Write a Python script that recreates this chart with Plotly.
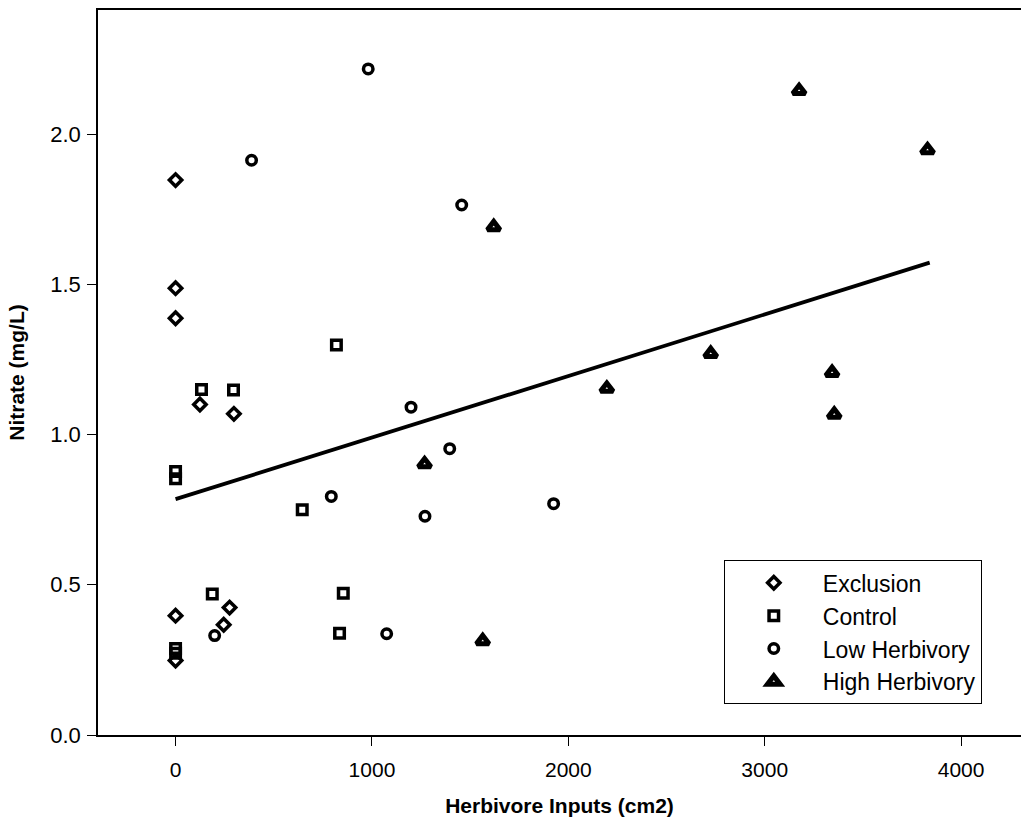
import plotly.graph_objects as go

# Herbivore inputs (cm2) and nitrate (mg/L) per treatment
excl_x = [0, 0, 0, 124, 297, 0, 245, 275, 0]
excl_y = [1.847, 1.487, 1.387, 1.100, 1.069, 0.397, 0.367, 0.424, 0.248]

ctrl_x = [0, 0, 132, 295, 819, 645, 187, 854, 835, 0, 0]
ctrl_y = [0.877, 0.853, 1.150, 1.148, 1.298, 0.750, 0.469, 0.472, 0.339, 0.288, 0.272]

low_x = [981, 387, 1457, 1199, 1396, 793, 1270, 199, 1075, 1925]
low_y = [2.217, 1.913, 1.764, 1.091, 0.953, 0.794, 0.728, 0.331, 0.337, 0.770]

high_x = [3175, 3829, 1620, 2725, 2196, 3343, 3354, 1268, 1564]
high_y = [2.144, 1.947, 1.691, 1.269, 1.153, 1.206, 1.067, 0.902, 0.313]

# Linear trend across all plots
fit_x = [0, 3840]
fit_y = [0.785, 1.572]

x_ticks = [0, 1000, 2000, 3000, 4000]
y_ticks = [0.0, 0.5, 1.0, 1.5, 2.0]

series = [
    ("Exclusion", excl_x, excl_y, "diamond-open", 9.5, 3.5),
    ("Control", ctrl_x, ctrl_y, "square-open", 9.5, 3.5),
    ("Low Herbivory", low_x, low_y, "circle-open", 9.5, 3.5),
    ("High Herbivory", high_x, high_y, "triangle-up-open", 11, 5),
]

fig = go.Figure()
fig.add_trace(go.Scatter(
    x=fit_x, y=fit_y, mode="lines", showlegend=False,
    line=dict(color="black", width=3.8), hoverinfo="skip",
))
for name, xs, ys, sym, size, lw in series:
    fig.add_trace(go.Scatter(
        x=xs, y=ys, mode="markers", name=name, legendgroup=name,
        marker=dict(symbol=sym, size=size, color="black",
                    line=dict(color="black", width=lw)),
    ))

base = "Liberation Sans, Arial, sans-serif"
fig.update_layout(
    width=1021, height=824,
    margin=dict(l=98, r=0, t=10, b=89),
    paper_bgcolor="white", plot_bgcolor="white",
    xaxis=dict(
        range=[-395, 4305], tickvals=x_ticks, ticktext=[str(v) for v in x_ticks],
        showgrid=False, zeroline=False,
        showline=True, linecolor="black", linewidth=1.5, mirror=True,
        ticks="outside", ticklen=9, tickcolor="black", tickwidth=1,
        ticklabelstandoff=6,
        tickfont=dict(family=base, size=21, color="black"),
        title=dict(text="<b>Herbivore Inputs (cm2)</b>",
                   font=dict(family=base, size=21, color="black"), standoff=18),
    ),
    yaxis=dict(
        range=[0, 2.413], tickvals=y_ticks, ticktext=[f"{v:.1f}" for v in y_ticks],
        showgrid=False, zeroline=False,
        showline=True, linecolor="black", linewidth=1.5,
        ticks="outside", ticklen=9, tickcolor="black", tickwidth=1,
        ticklabelstandoff=2,
        tickfont=dict(family=base, size=22, color="black"),
        title=dict(text="<b>Nitrate (mg/L)</b>",
                   font=dict(family=base, size=21, color="black"), standoff=20),
    ),
    legend=dict(
        x=0.678, y=0.241, xanchor="left", yanchor="top",
        bordercolor="black", borderwidth=1, bgcolor="white",
        font=dict(family=base, size=23, color="black"),
        tracegroupgap=0, itemwidth=88,
    ),
)

fig.write_html("out.html")
